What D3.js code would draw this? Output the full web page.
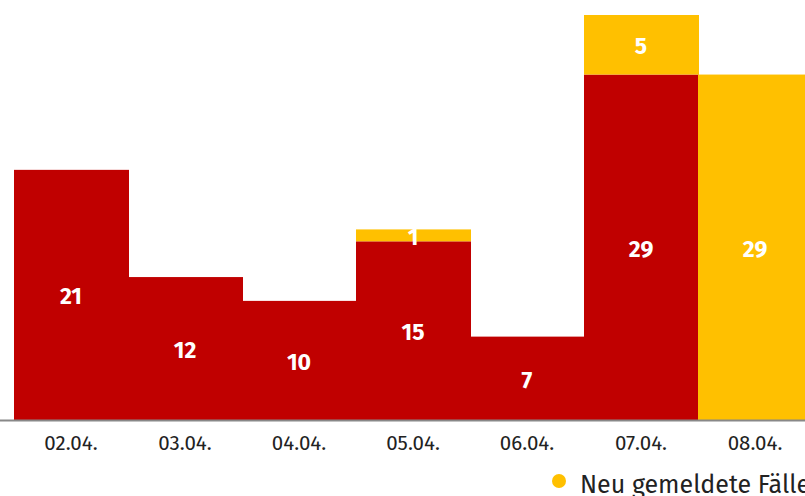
<!DOCTYPE html>
<html><head><meta charset="utf-8">
<script src="https://cdn.jsdelivr.net/npm/d3@7"></script>
<style>body{margin:0;overflow:hidden;background:#fff}svg{display:block}</style>
</head><body>
<svg id="c" width="805" height="496"></svg>
<script>
const categories = ["02.04.","03.04.","04.04.","05.04.","06.04.","07.04.","08.04."];
const bisherige = [21,12,10,15,7,29,0];
const neue = [0,0,0,1,0,5,29];
const legendLabels = ["Neu gemeldete Fälle"];

const svg = d3.select("#c");
const font = "'Fira Sans','Noto Sans',sans-serif";
const x = d3.scaleBand().domain(categories).range([14, 812]).padding(0);
const y = d3.scaleLinear().domain([0, 34]).range([420, 15]);
const red = "#c00000", yellow = "#ffc000";

const data = categories.map((c,i)=>({c, a:bisherige[i], b:neue[i]}));

const g = svg.append("g");
g.selectAll("rect.a").data(data.filter(d=>d.a>0)).join("rect")
  .attr("x", d=>x(d.c)).attr("width", x.bandwidth()+1)
  .attr("y", d=>y(d.a)).attr("height", d=>y(0)-y(d.a)).attr("fill", red);
g.selectAll("rect.b").data(data.filter(d=>d.b>0)).join("rect")
  .attr("x", d=>x(d.c)).attr("width", x.bandwidth()+1)
  .attr("y", d=>y(d.a+d.b)).attr("height", d=>y(d.a)-y(d.a+d.b)).attr("fill", yellow);

const labels = [];
data.forEach(d=>{
  if(d.a>0) labels.push({c:d.c, v:d.a, mid:d.a/2});
  if(d.b>0) labels.push({c:d.c, v:d.b, mid:d.a+d.b/2});
});
g.selectAll("text.l").data(labels).join("text")
  .attr("x", d=>x(d.c)+x.bandwidth()/2).attr("y", d=>y(d.mid)+1)
  .attr("dy","0.36em").attr("text-anchor","middle")
  .attr("fill","#fff").attr("font-family",font).attr("font-weight","bold").attr("font-size",23)
  .text(d=>d.v);

const ax = svg.append("g").attr("transform","translate(0,420)")
  .call(d3.axisBottom(x).tickSize(0).tickPadding(15));
ax.select(".domain").attr("stroke","#888").attr("stroke-width",2).attr("d","M0,0.5H805");
ax.selectAll("text").attr("font-family",font).attr("font-size",20.5).attr("fill","#222");

const lg = svg.append("g").attr("transform","translate(559,481)");
lg.append("circle").attr("r",7).attr("fill",yellow);
lg.append("text").attr("x",21).attr("y",3).attr("dy","0.36em")
  .attr("font-family",font).attr("font-size",25).attr("fill","#222").text(legendLabels[0]);
</script>
</body></html>
